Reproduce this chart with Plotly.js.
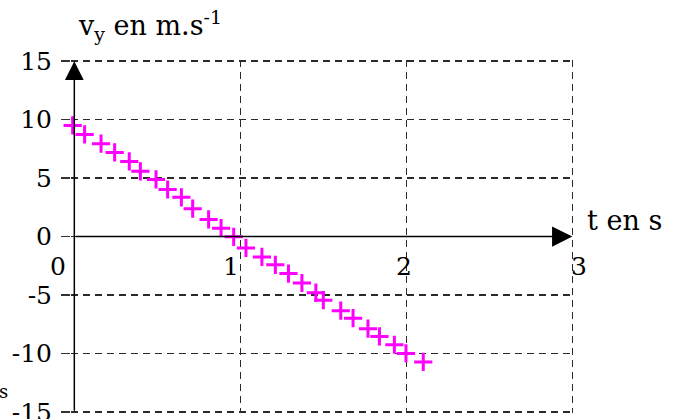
<!DOCTYPE html>
<html>
<head>
<meta charset="utf-8">
<script src="https://cdn.plot.ly/plotly-3.0.1.min.js"></script>
<style>html,body{margin:0;padding:0;background:#fff;}#chart{width:674px;height:419px;}</style>
</head>
<body>
<div id="chart"></div>
<script>
// ---- data ----
const tValues = [-0.01, 0.062, 0.161, 0.243, 0.331, 0.398, 0.492, 0.562, 0.645, 0.713, 0.809, 0.884, 0.960,
                 1.034, 1.130, 1.211, 1.290, 1.371, 1.455, 1.500, 1.605, 1.679, 1.769, 1.838, 1.928, 1.998, 2.102];
const vyValues = [9.50, 8.73, 7.94, 7.19, 6.42, 5.58, 4.88, 4.02, 3.35, 2.38, 1.46, 0.71, -0.03,
                  -0.98, -1.75, -2.42, -3.17, -3.98, -4.81, -5.45, -6.35, -6.99, -7.89, -8.55, -9.26, -10.0, -10.73];
const xTickVals = [0, 1, 2, 3];
const xTickText = ["0", "1", "2", "3"];
const yTickVals = [-15, -10, -5, 0, 5, 10, 15];
const yTickText = ["-15", "-10", "-5", "0", "5", "10", "15"];
const xTitle = "t en s";
const yTitle = "v<sub>y</sub> en m.s<sup>-1</sup>";
const xAxisEnd = 3;
const yAxisEnds = [-15, 15];
const xRange = [-0.02, 3.01];
const yRange = [-15.1, 15.1];

// ---- styling ----
const FONT = "DejaVu Serif";
const FS = 25;
const gridStyle = {showgrid: true, gridcolor: "#2a2a2a", gridwidth: 1.6, griddash: "7px,5px", zeroline: false, showline: false};
const xLabelShiftPx = [-16, -9, -2, 7];

const trace = {
  x: tValues, y: vyValues, type: "scatter", mode: "markers", cliponaxis: false,
  marker: {symbol: "cross-thin", size: 13, color: "#ff00ff", line: {color: "#ff00ff", width: 3}},
  hoverinfo: "none"
};

const annotations = [];
// axis arrows
annotations.push({x: xAxisEnd, y: 0, ax: 0, ay: 0, xref: "x", yref: "y", axref: "x", ayref: "y",
  showarrow: true, arrowhead: 2, arrowsize: 2.7, arrowwidth: 1.5, arrowcolor: "#000", text: ""});
annotations.push({x: 0, y: yAxisEnds[1], ax: 0, ay: yAxisEnds[0], xref: "x", yref: "y", axref: "x", ayref: "y",
  showarrow: true, arrowhead: 2, arrowsize: 2.5, arrowwidth: 1.5, arrowcolor: "#000", text: ""});
// x tick labels
xTickVals.forEach((v, i) => {
  annotations.push({x: v, y: 0, xref: "x", yref: "y", text: xTickText[i], showarrow: false,
    xanchor: "center", yanchor: "middle", xshift: xLabelShiftPx[i], yshift: -30,
    font: {family: FONT, size: FS, color: "#000"}});
});
// titles
annotations.push({x: 0, y: yAxisEnds[1], xref: "x", yref: "y", text: yTitle, showarrow: false,
  xanchor: "left", yanchor: "bottom", xshift: 2, yshift: 14, font: {family: FONT, size: 27, color: "#000"}});
annotations.push({x: xAxisEnd, y: 0, xref: "x", yref: "y", text: xTitle, showarrow: false,
  xanchor: "left", yanchor: "middle", xshift: 13, yshift: 16, font: {family: FONT, size: 27, color: "#000"}});
// clipped glyph at bottom left
annotations.push({x: 0, y: yAxisEnds[0], xref: "x", yref: "y", text: "s", showarrow: false,
  xanchor: "left", yanchor: "middle", xshift: -77, yshift: 20, font: {family: FONT, size: 18, color: "#000"}});

const layout = {
  width: 674, height: 419,
  margin: {l: 71, r: 100, t: 60, b: 6, pad: 0},
  paper_bgcolor: "#fff", plot_bgcolor: "#fff",
  showlegend: false,
  xaxis: Object.assign({range: xRange, tickvals: xTickVals, showticklabels: false, ticks: ""}, gridStyle),
  yaxis: Object.assign({range: yRange, tickvals: yTickVals, ticktext: yTickText, ticks: "outside", ticklen: 9,
    tickwidth: 1.5, tickcolor: "#333", ticklabelstandoff: 4, ticklabeloverflow: "allow",
    tickfont: {family: FONT, size: FS, color: "#000"}}, gridStyle),
  annotations: annotations
};

Plotly.newPlot("chart", [trace], layout, {staticPlot: true, displayModeBar: false});
</script>
</body>
</html>
